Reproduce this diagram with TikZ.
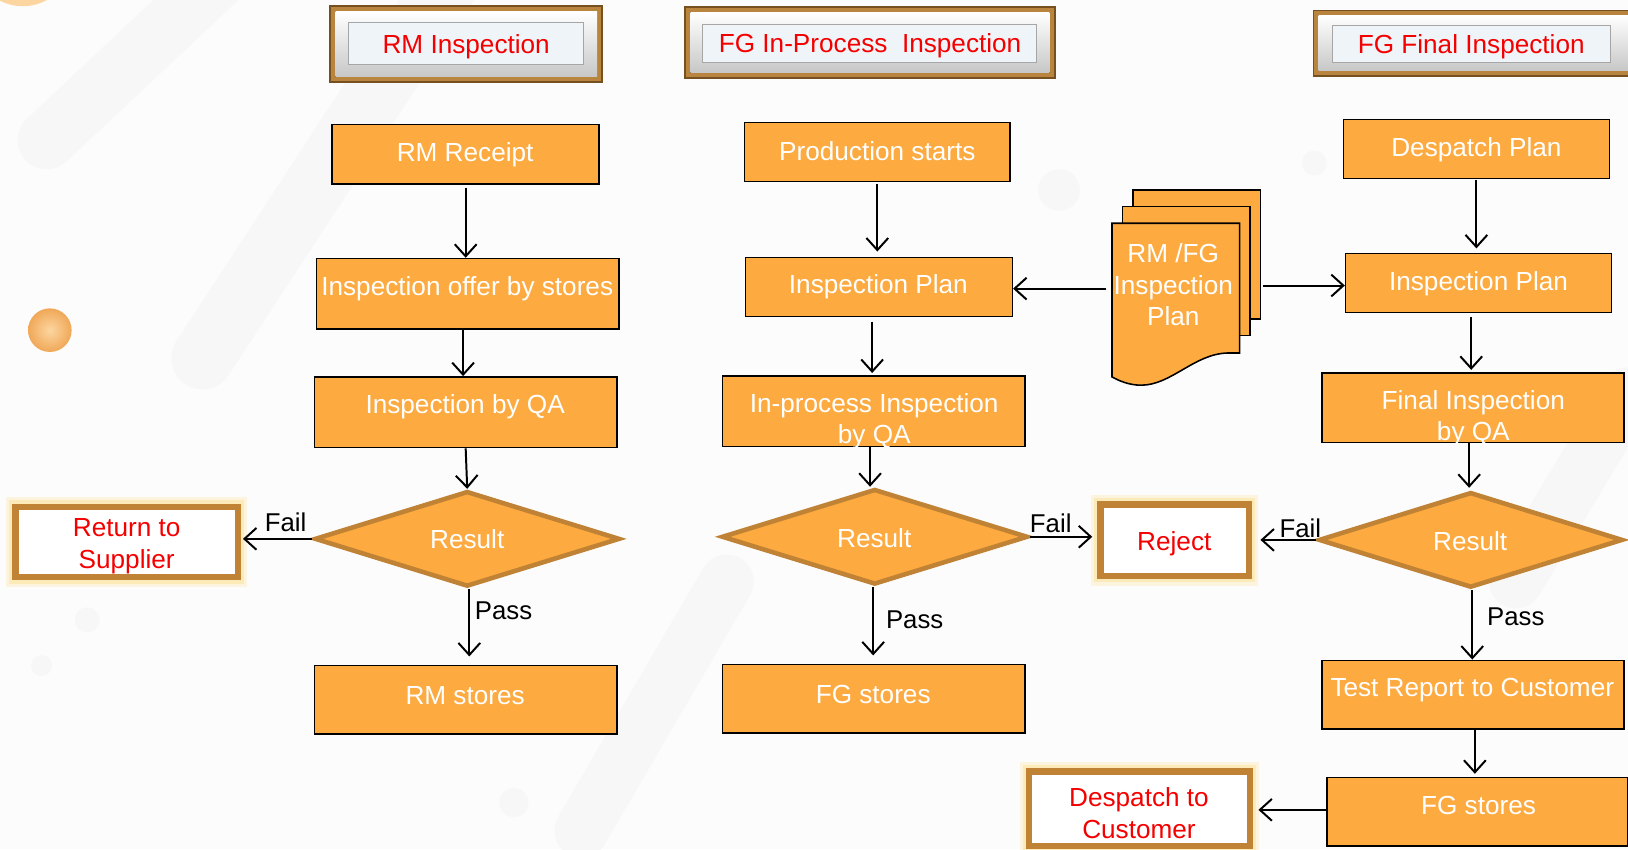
\documentclass[tikz,border=0pt]{standalone}
\usepackage{fontspec}
\setmainfont{Liberation Sans}
\usetikzlibrary{shapes.geometric,arrows.meta}
\definecolor{org}{RGB}{253,170,64}
\definecolor{dbr}{RGB}{192,130,52}
\definecolor{rd}{RGB}{245,0,0}
\definecolor{hbr}{RGB}{184,132,62}
\definecolor{hbrd}{RGB}{118,80,32}
\definecolor{pnl}{RGB}{239,244,248}
\definecolor{glowc}{RGB}{255,222,140}
\definecolor{bgc}{RGB}{252,252,252}
\definecolor{deco}{RGB}{247,247,247}
\definecolor{dotin}{RGB}{252,214,160}
\definecolor{dotout}{RGB}{240,168,88}
\tikzset{
  obox/.style={rectangle, draw=black, line width=0.75pt, fill=org, inner sep=0pt},
  dia/.style={diamond, draw=dbr, line width=2.2pt, fill=org, inner sep=0pt},
  rbox/.style={rectangle, draw=dbr, line width=3pt, fill=white, inner sep=0pt,
    preaction={draw=glowc, line width=9pt, opacity=0.25, rounded corners=4pt},
    preaction={draw=glowc, line width=6pt, opacity=0.45, rounded corners=2pt}},
  wt/.style={text=white, font=\fontsize{12.6}{15.2}\selectfont, align=center, inner sep=0pt, yshift=-1.4pt},
  rt/.style={text=rd, font=\fontsize{12.6}{15.2}\selectfont, align=center, inner sep=0pt, yshift=-1.2pt},
  lbl/.style={text=black, font=\fontsize{12.4}{15}\selectfont, inner sep=0pt},
  arr/.style={draw=black, line width=0.95pt, -{Straight Barb[length=5.8pt,width=10.5pt,line width=0.95pt]}},
  docsheet/.style={draw=black, line width=0.75pt, fill=org},
  hdrouter/.style={draw=hbrd, line width=0.8pt, fill=hbr},
  hdrbevel/.style={top color=white, bottom color=black!22},
  hdrpanel/.style={draw=black!35, line width=0.5pt, fill=pnl},
}
\begin{document}
\begin{tikzpicture}[x=0.5pt, y=-0.5pt]
\clip (0,0) rectangle (1568,818);
\fill[bgc] (0,0) rectangle (1568,818);
% faint background decoration
\draw[deco, line width=28pt, line cap=round] (210,-20) -- (45,135);
\draw[deco, line width=30pt, line cap=round] (440,-30) -- (195,345);
\draw[deco, line width=26pt, line cap=round] (700,560) -- (560,800);
\draw[deco, line width=26pt, line cap=round] (1568,380) -- (1460,560);
\fill[deco] (1020,183) circle (10pt);
\fill[deco] (1266,157) circle (6pt);
\fill[deco] (84,597) circle (6pt);
\fill[deco] (40,641) circle (5pt);
\fill[deco] (495,773) circle (7pt);
\fill[dotin] (22,-42) circle (24pt);
\shade[inner color=dotin, outer color=dotout] (48,318) circle (10.5pt);

% headers
\fill[hdrouter] (318,6) rectangle (580,79);
\fill[hdrbevel] (323,11) rectangle (575,74);
\node[hdrpanel, minimum width=113pt, minimum height=20pt] (h1) at (449,42) {};
\node[rt] (h1t) at (449,43) {RM Inspection};

\fill[hdrouter] (660,7) rectangle (1016,75);
\fill[hdrbevel] (665,12) rectangle (1011,70);
\node[hdrpanel, minimum width=160.5pt, minimum height=18pt] (h2) at (837.5,42) {};
\node[rt] (h2t) at (838,42) {FG In-Process\ \ Inspection};

\fill[hdrouter] (1265,10) rectangle (1590,73);
\fill[hdrbevel] (1270,15) rectangle (1585,68);
\node[hdrpanel, minimum width=134pt, minimum height=17.5pt] (h3) at (1417,42.5) {};
\node[rt] (h3t) at (1417,43) {FG Final Inspection};

% column 1
\node[obox, minimum width=128.5pt, minimum height=28.5pt] (rmr) at (448.5,148.5) {};
\node[obox, minimum width=145.5pt, minimum height=34pt] (iofs) at (450.5,283) {};
\node[obox, minimum width=145.5pt, minimum height=34pt] (iqa) at (448.5,397) {};
\node[dia, minimum width=147pt, minimum height=46pt] (res1) at (450,519) {};
\node[rbox, minimum width=107pt, minimum height=34pt] (ret) at (122,522) {};
\node[obox, minimum width=145.5pt, minimum height=33pt] (rms) at (448.5,674) {};

\node[wt] (t1) at (448,146) {RM Receipt};
\node[wt] (t2) at (450,275) {Inspection offer by stores};
\node[wt] (t3) at (448,389) {Inspection by QA};
\node[wt] (t4) at (450,516.5) {Result};
\node[rt] (t5) at (122,523.5) {Return to\\Supplier};
\node[wt] (t6) at (448,667) {RM stores};

% column 2
\node[obox, minimum width=128pt, minimum height=28.5pt] (ps) at (845,146.5) {};
\node[obox, minimum width=128.5pt, minimum height=28.5pt] (ip2) at (846.5,276.5) {};
\node[obox, minimum width=145.5pt, minimum height=34pt] (ipqa) at (841.5,396) {};
\node[dia, minimum width=147.5pt, minimum height=46pt] (res2) at (842.5,517) {};
\node[obox, minimum width=145.5pt, minimum height=33pt] (fgs2) at (841.5,673) {};
\node[rbox, minimum width=71.5pt, minimum height=34.5pt] (rej) at (1131.5,520.5) {};

\node[wt] (t7) at (845,143) {Production starts};
\node[wt] (t8) at (846,273) {Inspection Plan};
\node[wt] (t9) at (842,403) {In-process Inspection\\by QA};
\node[wt] (t10) at (842,515.5) {Result};
\node[wt] (t11) at (841,666) {FG stores};
\node[rt] (t12) at (1131,521) {Reject};

% document stack
\draw[docsheet] (1091,183) rectangle (1214,307);
\draw[docsheet] (1081,199) rectangle (1204,323);
\draw[docsheet] (1071,215) -- (1194,215) -- (1194,340) -- (1182,340)
  .. controls (1150,341) and (1128,371) .. (1099,371)
  .. controls (1088,371) and (1078,367) .. (1071,363) -- cycle;
\node[inner sep=0pt, minimum width=75pt, minimum height=60pt] (doc) at (1141,278) {};
\node[wt] (t13) at (1130,271.5) {RM /FG\\Inspection\\Plan};

% column 3
\node[obox, minimum width=128pt, minimum height=28.5pt] (dp) at (1422,143.5) {};
\node[obox, minimum width=128pt, minimum height=28.5pt] (ip3) at (1424,272.5) {};
\node[obox, minimum width=145.5pt, minimum height=33.5pt] (fqa) at (1418.5,392.5) {};
\node[dia, minimum width=146.5pt, minimum height=46pt] (res3) at (1416.5,520) {};
\node[obox, minimum width=145.5pt, minimum height=33pt] (trc) at (1418.5,669) {};
\node[obox, minimum width=145pt, minimum height=33pt] (fgs3) at (1423,782) {};
\node[rbox, minimum width=106.5pt, minimum height=36pt] (dc) at (1097.5,779) {};

\node[wt] (t14) at (1422,141) {Despatch Plan};
\node[wt] (t15) at (1424,270) {Inspection Plan};
\node[wt] (t16) at (1419,400) {Final Inspection\\by QA};
\node[wt] (t17) at (1416,518.5) {Result};
\node[wt] (t18) at (1418,662) {Test Report to Customer};
\node[wt] (t19) at (1424,773) {FG stores};
\node[rt] (t20) at (1097,781) {Despatch to\\Customer};

% connectors column 1
\draw[arr] ([yshift=-1.5pt]rmr.south) -- (rmr.south |- iofs.north);
\draw[arr] ([xshift=-2.25pt]iofs.south) -- ([xshift=-2.25pt]iofs.south |- iqa.north);
\draw[arr] (iqa.south) -- (res1.north);
\draw[arr] ([xshift=1pt]res1.south) -- ([xshift=1pt,yshift=4pt]res1.south |- rms.north);
\draw[arr] (res1.west) -- ([xshift=1pt]res1.west -| ret.east);
\node[lbl] (f1) at (275,503) {Fail};
\node[lbl, anchor=west] (p1) at (457,588) {Pass};

% connectors column 2
\draw[arr] ([yshift=-0.5pt]ps.south) -- ([yshift=2.5pt]ps.south |- ip2.north);
\draw[arr] ([xshift=-3.25pt,yshift=-2pt]ip2.south) -- ([xshift=-3.25pt,yshift=1pt]ip2.south |- ipqa.north);
\draw[arr] ([xshift=-1.75pt]ipqa.south) -- ([xshift=-1.75pt]ipqa.south |- res2.north);
\draw[arr] ([xshift=-0.75pt]res2.south) -- ([xshift=-0.75pt,yshift=4pt]res2.south |- fgs2.north);
\draw[arr] (res2.east) -- ([xshift=-2.5pt]res2.east -| rej.west);
\node[lbl] (f2) at (1012,504) {Fail};
\node[lbl, anchor=west] (p2) at (853,597) {Pass};

% document connectors
\draw[arr] (doc.west) -- (doc.west -| ip2.east);
\draw[arr] ([yshift=1.5pt]doc.east) -- ([yshift=1.5pt]doc.east -| ip3.west);

% connectors column 3
\draw[arr] ([yshift=-0.5pt]dp.south) -- ([yshift=2pt]dp.south |- ip3.north);
\draw[arr] ([xshift=-3.5pt,yshift=-2pt]ip3.south) -- ([xshift=-3.5pt,yshift=1pt]ip3.south |- fqa.north);
\draw[arr] ([xshift=-1.75pt]fqa.south) -- ([xshift=-1.75pt,yshift=1pt]fqa.south |- res3.north);
\draw[arr] ([xshift=0.75pt]res3.south) -- ([xshift=0.75pt]res3.south |- trc.north);
\draw[arr] (res3.west) -- ([xshift=4pt]res3.west -| rej.east);
\node[lbl, anchor=west] (f3) at (1232,509) {Fail};
\node[lbl, anchor=west] (p3) at (1432,594) {Pass};
\draw[arr] ([xshift=1pt]trc.south) -- ([xshift=1pt,yshift=1.5pt]trc.south |- fgs3.north);
\draw[arr] ([yshift=1pt]fgs3.west) -- ([yshift=1pt,xshift=2.5pt]fgs3.west -| dc.east);
\end{tikzpicture}
\end{document}
